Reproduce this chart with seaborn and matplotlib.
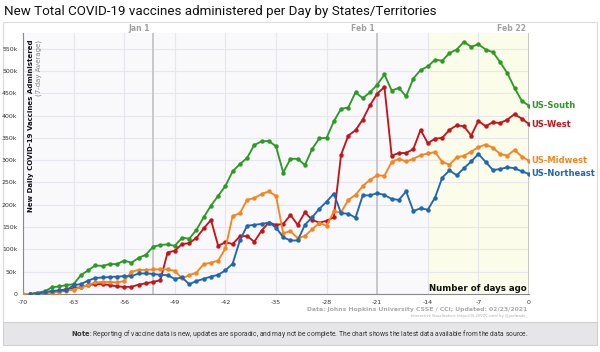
import numpy as np
import pandas as pd
import matplotlib.pyplot as plt
import seaborn as sns
from matplotlib.patches import Rectangle

# days ago, -70 .. 0
days = list(range(-70, 1))

# 7-day average of new vaccine doses, in thousands
south = [np.nan, 0, 3, 6, 15, 17, 20, 22, 42, 53, 64, 63, 67, 67, 75, 70, 81, 88, 106, 110,
         111, 108, 126, 124, 144, 172, 198, 220, 242, 275, 291, 305, 334, 342, 343, 331, 272, 303,
         303, 289, 325, 349, 350, 387, 415, 418, 452, 439, 452, 469, 492, 456, 462, 443, 483, 502,
         510, 525, 523, 540, 548, 565, 554, 560, 548, 542, 520, 495, 462, 433, 422]
west = [np.nan, 0, 1, 3, 5, 7, 11, 13, 15, 20, 22, 22, 20, 17, 16, 16, 21, 24, 27, 31,
        93, 97, 112, 114, 126, 147, 166, 108, 116, 112, 129, 130, 117, 142, 160, 155, 157, 177,
        155, 183, 166, 160, 164, 172, 312, 355, 367, 391, 423, 449, 464, 310, 316, 316, 325, 368,
        338, 348, 350, 368, 378, 376, 355, 388, 376, 385, 383, 391, 403, 393, 381]
midwest = [0, 0, 1, 2, 3, 5, 7, 10, 15, 20, 26, 27, 27, 26, 29, 50, 54, 54, 55, 55,
           55, 52, 35, 42, 48, 67, 70, 75, 102, 175, 181, 211, 215, 224, 230, 220, 136, 141,
           125, 130, 145, 159, 153, 185, 183, 211, 222, 242, 256, 266, 265, 296, 303, 297, 303, 311,
           315, 318, 296, 290, 306, 310, 319, 329, 335, 328, 314, 310, 323, 308, 299]
northeast = [np.nan, 0, 1, 4, 7, 8, 8, 20, 22, 30, 36, 37, 38, 39, 40, 40, 46, 46, 45, 43,
             42, 34, 37, 22, 29, 34, 39, 43, 53, 68, 120, 153, 155, 157, 160, 149, 127, 120,
             120, 155, 172, 191, 207, 225, 181, 180, 171, 221, 221, 226, 222, 213, 211, 230, 186, 192,
             189, 216, 261, 277, 266, 282, 297, 314, 296, 278, 280, 284, 282, 275, 269]

regions = ["US-South", "US-West", "US-Midwest", "US-Northeast"]
colors = {"US-South": "#2e9a26", "US-West": "#c3161b",
          "US-Midwest": "#f4861f", "US-Northeast": "#1f67b0"}

df = pd.concat([
    pd.DataFrame({"day": days, "value": np.array(v, dtype=float) * 1000, "region": r})
    for r, v in zip(regions, [south, west, midwest, northeast])
], ignore_index=True)

date_marks = {"Jan 1": -52, "Feb 1": -21, "Feb 22": 0}

sns.set_style("white")
plt.rcParams['font.family'] = ['DejaVu Sans']
roboto = ['Roboto', 'DejaVu Sans']

fig = plt.figure(figsize=(6, 3.52), dpi=100)
fig.patch.set_facecolor("white")
ax = fig.add_axes([23/600, 1 - 294/352, 506/600, 261/352])
ax.set_facecolor("#f9f9fc")

# panel border and note box
fig.add_artist(Rectangle((3/600, 1 - 322/352), 594/600, 300/352, transform=fig.transFigure,
                         facecolor="none", edgecolor="#dcdcdc", lw=0.8, zorder=-1))
fig.add_artist(Rectangle((3/600, 1 - 345/352), 594/600, 23/352, transform=fig.transFigure,
                         facecolor="#e6e6e8", edgecolor="#d0d0d0", lw=0.8))

ax.axvspan(-14, 0, color="#fcfcea", zorder=0)
for x in range(-70, 1, 7):
    ax.axvline(x, color="#e6e6ee", lw=0.8, zorder=0)
for y in range(50000, 600000, 50000):
    ax.axhline(y, color="#e6e6ee", lw=0.8, zorder=0)
for lab, x in date_marks.items():
    ax.axvline(x, color="#c8c8c8", lw=1.4, zorder=1)
    ax.text(x - 0.4, 586000, lab, ha="right", va="bottom", fontsize=5.5, color="#a0a0a0",
            fontweight="bold")

sns.lineplot(data=df, x="day", y="value", hue="region", hue_order=regions, palette=colors,
             marker="o", markersize=3.2, markeredgewidth=0, lw=1.35, legend=False, ax=ax, zorder=3)

for r in regions:
    last = df[(df.region == r) & (df.day == 0)].value.iloc[0]
    ax.text(0.3, last, r, color=colors[r], fontsize=6, fontweight="bold", va="center",
            ha="left", clip_on=False)

ax.set_xlim(-70, 0)
ax.set_ylim(0, 585000)
ax.set_xticks(range(-70, 1, 7))
ax.set_xticklabels([str(x) for x in range(-70, 1, 7)])
ax.set_yticks(range(0, 600000, 50000))
ax.set_yticklabels(["0"] + [f"{y // 1000}k" for y in range(50000, 600000, 50000)])
ax.tick_params(axis="both", labelsize=4.5, colors="#333333", length=3, width=0.6, pad=1.5)
ax.tick_params(axis="y", pad=1)
ax.set_xlabel("")
ax.set_ylabel("")
for s in ["top", "right"]:
    ax.spines[s].set_visible(False)
for s in ["left", "bottom"]:
    ax.spines[s].set_color("#888888")
    ax.spines[s].set_linewidth(0.8)

ax.text(0.01, 0.975, "New Daily COVID-19 Vaccines Administered", transform=ax.transAxes,
        rotation=90, ha="left", va="top", fontsize=5, fontweight="bold", color="#111111")
ax.text(0.025, 0.975, "(7-day Average)", transform=ax.transAxes, rotation=90, ha="left",
        va="top", fontsize=5, color="#888888")
ax.text(-0.3, 2500, "Number of days ago", ha="right", va="bottom", fontsize=6.2,
        fontweight="bold", color="#111111")

fig.text(4/600, 1 - 11/352, "New Total COVID-19 vaccines administered per Day by States/Territories",
         ha="left", va="center", fontsize=9.6, color="#111111", family=roboto)
fig.text(527/600, 1 - 309/352, "Data: Johns Hopkins University CSSE / CCI; Updated: 02/23/2021",
         ha="right", va="center", fontsize=4.4, color="#aaaaaa", fontweight="bold")
fig.text(527/600, 1 - 315.5/352, "Interactive Visualization: https://91-DIVOC.com/ by @profwade_",
         ha="right", va="center", fontsize=2.6, color="#aaaaaa")
fig.text(300/600, 1 - 333.5/352,
         "$\\bf{Note}$: Reporting of vaccine data is new, updates are sporadic, and may not be complete. "
         "The chart shows the latest data available from the data source.",
         ha="center", va="center", fontsize=4.9, color="#333333", family=roboto)

fig.savefig("out.png", dpi=100)
